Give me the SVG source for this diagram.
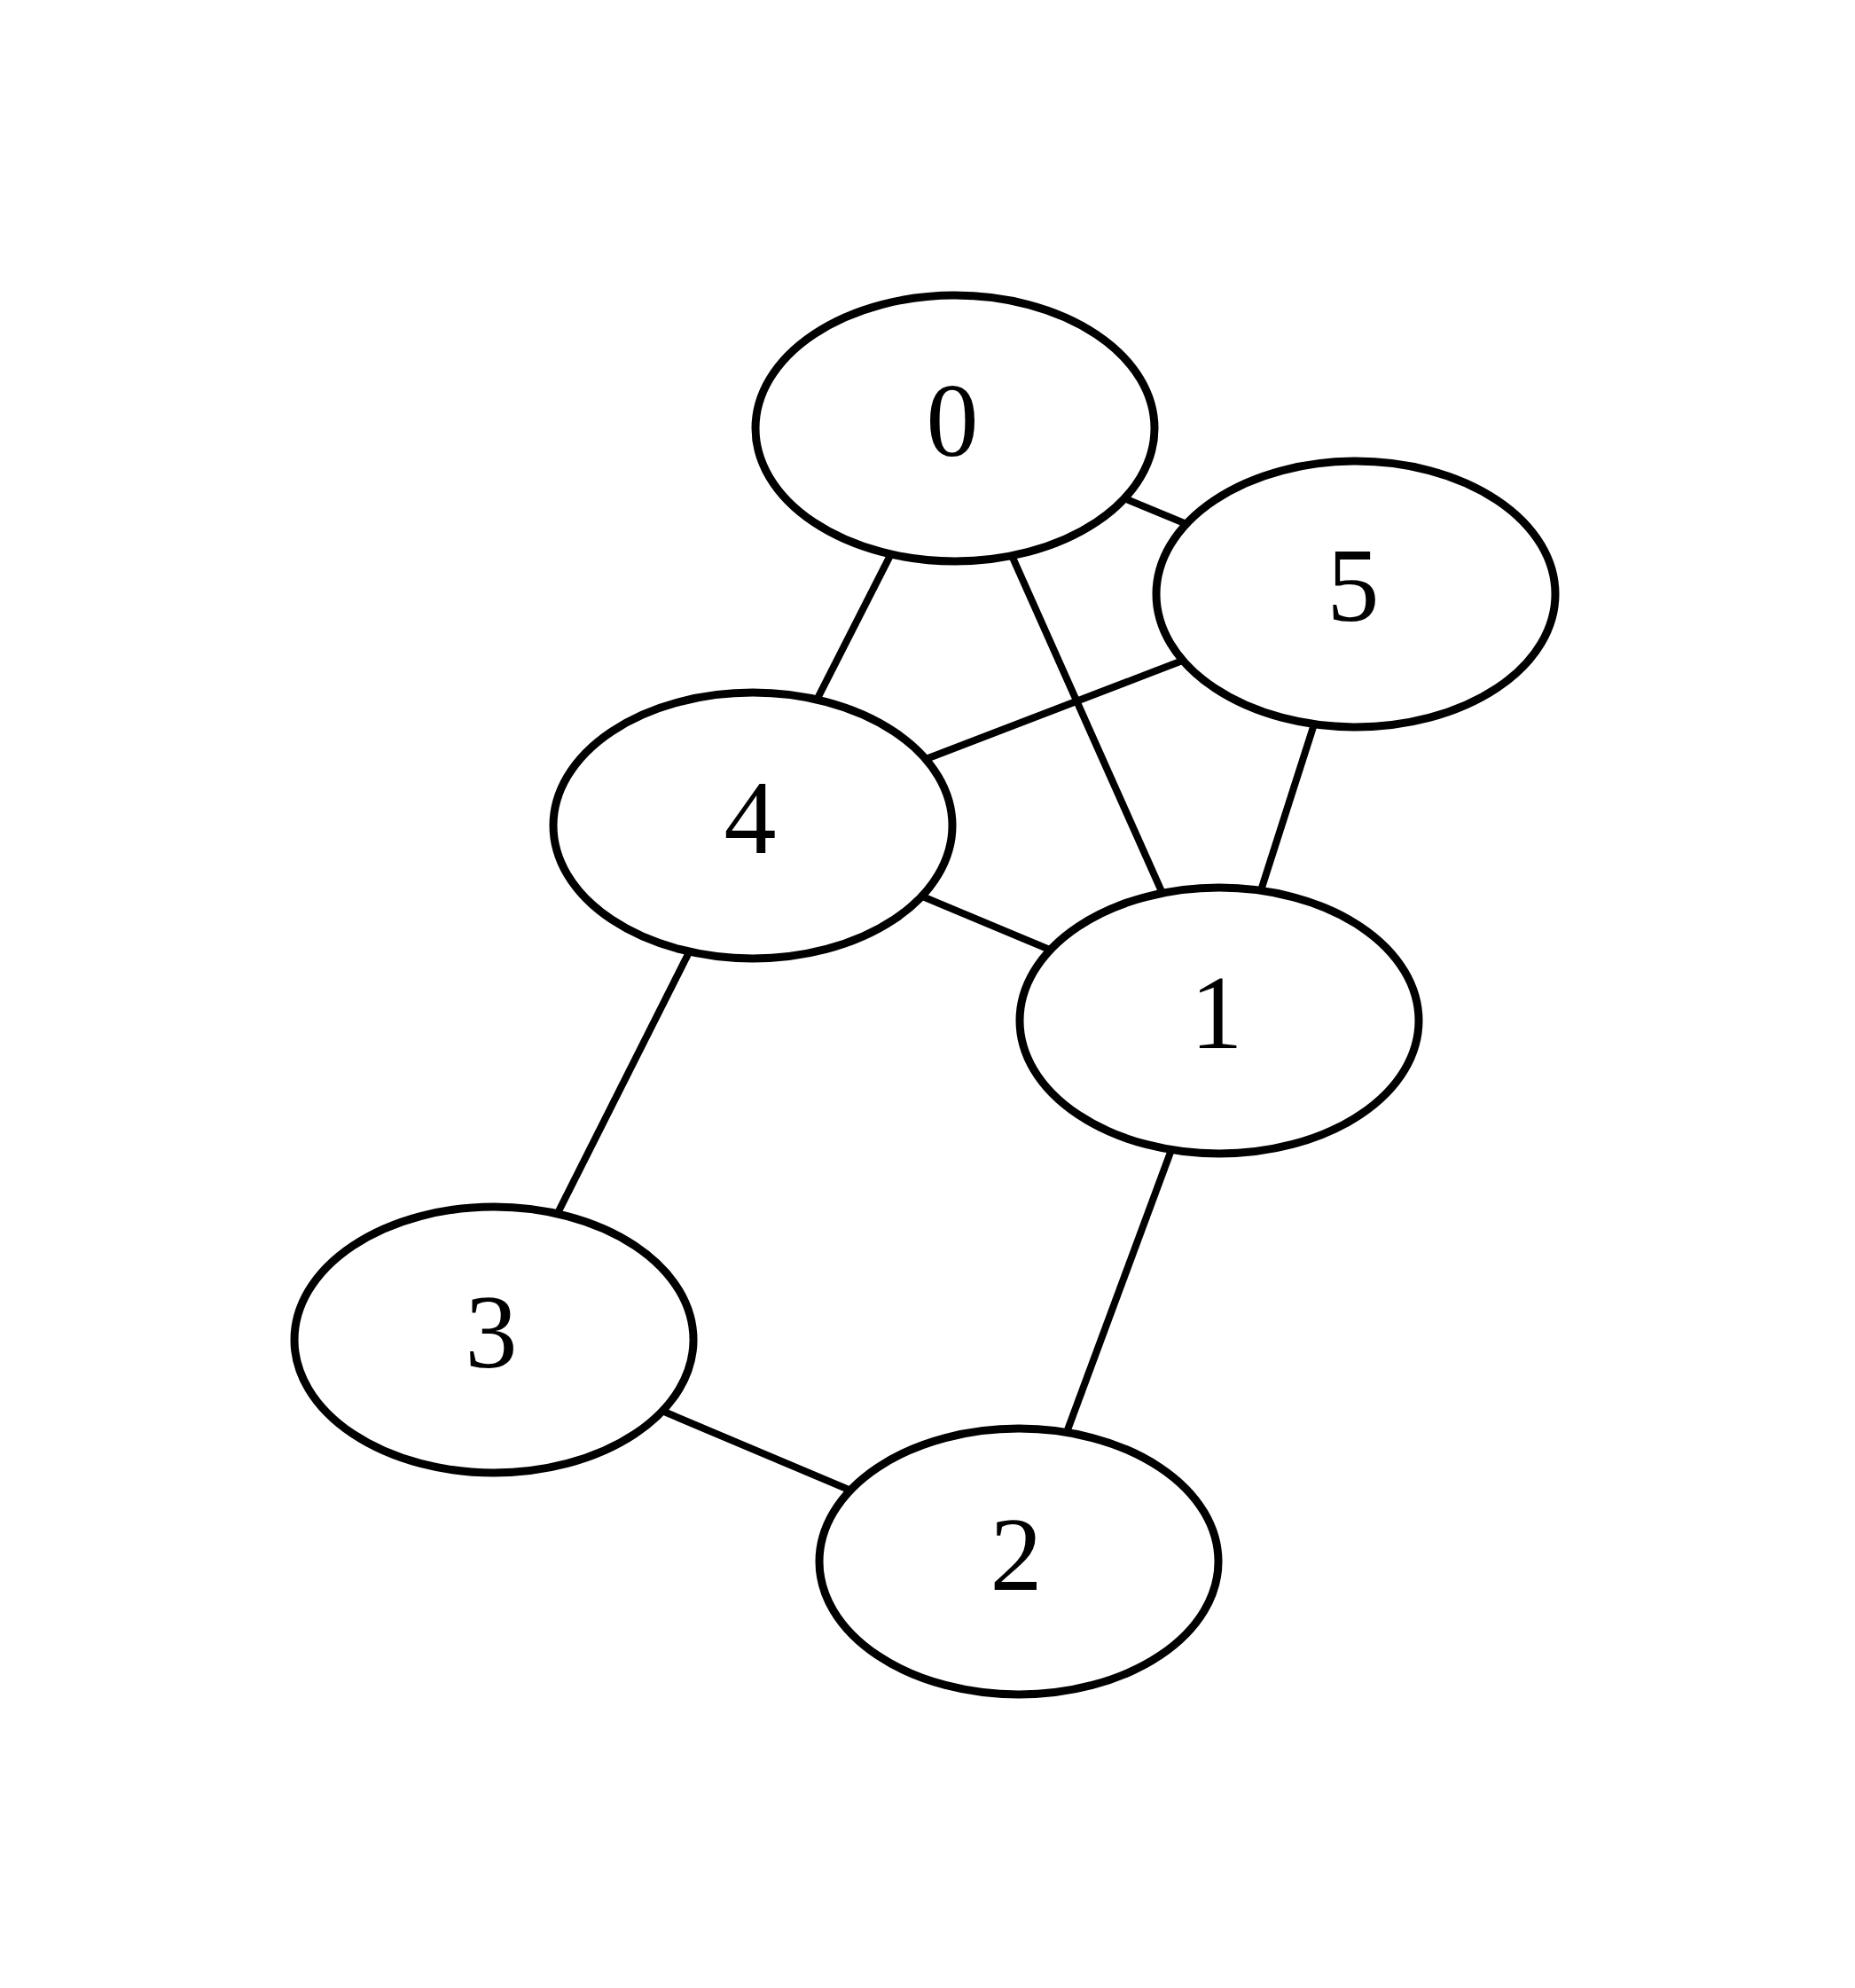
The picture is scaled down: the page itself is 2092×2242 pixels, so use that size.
<svg xmlns="http://www.w3.org/2000/svg" width="2092" height="2242" viewBox="0 0 2092 2242">
<style>
.edge{stroke:#000;stroke-width:8;fill:none}
.node ellipse{fill:#fff;stroke:#000;stroke-width:9}
.node text{font-family:"Liberation Serif","Times New Roman",serif;font-size:118px;fill:#000;text-anchor:middle}
</style>
<rect width="2092" height="2242" fill="#fff"/>
<g id="edges">
<line class="edge" x1="1077" y1="483" x2="1529" y2="670"/>
<line class="edge" x1="1077" y1="483" x2="849" y2="931"/>
<line class="edge" x1="1077" y1="483" x2="1375" y2="1151"/>
<line class="edge" x1="1529" y1="670" x2="849" y2="931"/>
<line class="edge" x1="1529" y1="670" x2="1375" y2="1151"/>
<line class="edge" x1="849" y1="931" x2="1375" y2="1151"/>
<line class="edge" x1="849" y1="931" x2="557" y2="1511"/>
<line class="edge" x1="1375" y1="1151" x2="1149" y2="1761"/>
<line class="edge" x1="557" y1="1511" x2="1149" y2="1761"/>
</g>
<g id="node0" class="node"><ellipse cx="1077" cy="483" rx="225" ry="150"/><text x="1074" y="514">0</text></g>
<g id="node5" class="node"><ellipse cx="1529" cy="670" rx="225" ry="150"/><text x="1526" y="700">5</text></g>
<g id="node4" class="node"><ellipse cx="849" cy="931" rx="225" ry="150"/><text x="846" y="962">4</text></g>
<g id="node1" class="node"><ellipse cx="1375" cy="1151" rx="225" ry="150"/><text x="1372" y="1182">1</text></g>
<g id="node3" class="node"><ellipse cx="557" cy="1511" rx="225" ry="150"/><text x="554" y="1542">3</text></g>
<g id="node2" class="node"><ellipse cx="1149" cy="1761" rx="225" ry="150"/><text x="1146" y="1793">2</text></g>
</svg>
